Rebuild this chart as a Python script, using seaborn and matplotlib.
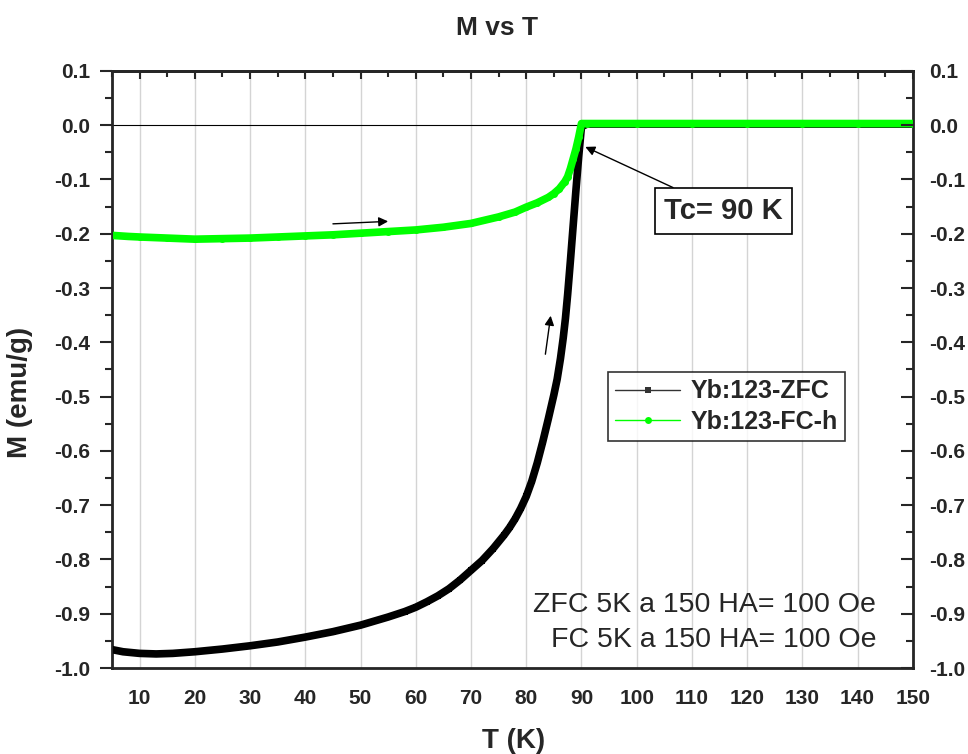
import numpy as np
import pandas as pd
import matplotlib
matplotlib.use('Agg')
import matplotlib.pyplot as plt
import seaborn as sns

# ZFC curve
t_zfc = [5, 7, 10, 13, 16, 20, 25, 30, 35, 40, 45, 50, 55, 58, 60, 62, 64, 66,
         68, 70, 72, 74, 76, 77, 78, 79, 80, 81, 82, 83, 84, 85, 85.6, 86.2,
         86.7, 87.1, 87.5, 88, 88.5, 89, 89.5, 90, 91, 100, 110, 120, 130, 140, 150]
m_zfc = [-0.966, -0.970, -0.973, -0.974, -0.973, -0.970, -0.965, -0.959, -0.952,
         -0.943, -0.933, -0.921, -0.906, -0.896, -0.888, -0.878, -0.867, -0.854,
         -0.838, -0.820, -0.802, -0.780, -0.755, -0.741, -0.725, -0.706, -0.684,
         -0.656, -0.622, -0.583, -0.541, -0.497, -0.468, -0.430, -0.392, -0.356,
         -0.312, -0.250, -0.185, -0.120, -0.058, -0.003, 0.002, 0.002, 0.002,
         0.002, 0.002, 0.002, 0.002]

# FC-h curve
t_fc = [5, 8, 10, 15, 20, 25, 30, 35, 40, 45, 50, 55, 60, 65, 70, 75, 78, 80,
        82, 84, 85, 86, 87, 87.5, 88, 88.5, 89, 89.5, 90, 91, 100, 110, 120,
        130, 140, 150]
m_fc = [-0.203, -0.205, -0.206, -0.208, -0.210, -0.209, -0.208, -0.206, -0.204,
        -0.202, -0.199, -0.196, -0.193, -0.188, -0.181, -0.169, -0.160, -0.151,
        -0.143, -0.133, -0.126, -0.117, -0.104, -0.095, -0.080, -0.062, -0.044,
        -0.022, 0.003, 0.003, 0.003, 0.003, 0.003, 0.003, 0.003, 0.003]

x_ticks = list(range(10, 151, 10))
y_ticks = [round(v, 1) for v in np.arange(-1.0, 0.11, 0.1)]
y_labels = ['%.1f' % abs(v) if abs(v) < 1e-9 else '%.1f' % v for v in y_ticks]

zfc = pd.DataFrame({'T': t_zfc, 'M': m_zfc})
fc = pd.DataFrame({'T': t_fc, 'M': m_fc})

sns.set_style('white')
plt.rcParams['font.family'] = ['Liberation Sans', 'DejaVu Sans']

fig = plt.figure(figsize=(9.68, 7.54), dpi=100)
ax = fig.add_axes([0.1157, 0.114, 0.8273, 0.792])

# vertical grid + zero line
for xv in x_ticks[:-1]:
    ax.axvline(xv, color='#d4d4d4', lw=1, zorder=0)
ax.axhline(0, color='black', lw=0.8, zorder=1)

sns.lineplot(data=zfc, x='T', y='M', ax=ax, color='black', linewidth=5.5,
             marker='s', markersize=5, markeredgewidth=0, label='Yb:123-ZFC',
             sort=False, zorder=3)
sns.lineplot(data=fc, x='T', y='M', ax=ax, color='#00ff00', linewidth=5.5,
             marker='o', markersize=5, markeredgewidth=0, label='Yb:123-FC-h',
             sort=False, zorder=4)

ax.set_xlim(5, 150)
ax.set_ylim(-1.0, 0.1)
ax.set_xticks(x_ticks)
ax.set_xticks(np.arange(5, 151, 5), minor=True)
ax.set_yticks(y_ticks)
ax.set_yticks(np.arange(-1.0, 0.101, 0.05), minor=True)
ax.set_yticklabels(y_labels)
ax.tick_params(which='major', direction='out', length=9, width=1.5, labelsize=15)
ax.tick_params(axis='y', which='major', pad=7)
ax.tick_params(axis='x', which='major', pad=6)
ax.tick_params(which='minor', direction='out', length=5, width=1.5)
for lab in ax.get_xticklabels() + ax.get_yticklabels():
    lab.set_fontweight('bold')
for s in ax.spines.values():
    s.set_linewidth(2)

ax.set_xlabel('T (K)', fontsize=20, fontweight='bold')
ax.xaxis.set_label_coords(0.502, -0.100)
ax.set_ylabel('M (emu/g)', fontsize=20, fontweight='bold')
ax.yaxis.set_label_coords(-0.0986, 0.462)
fig.text(497 / 968, 1 - 28 / 754, 'M vs T', fontsize=19, fontweight='bold',
         ha='center', va='center')

# right axis with labels, inward ticks
ax2 = ax.twinx()
ax2.set_ylim(ax.get_ylim())
ax2.set_yticks(y_ticks)
ax2.set_yticks(np.arange(-1.0, 0.101, 0.05), minor=True)
ax2.set_yticklabels(y_labels)
ax2.tick_params(which='major', direction='in', length=9, width=1.5,
                labelsize=15, pad=12)
ax2.tick_params(which='minor', direction='in', length=5, width=1.5)
for lab in ax2.get_yticklabels():
    lab.set_fontweight('bold')

# top axis, inward ticks, no labels
ax3 = ax.secondary_xaxis('top')
ax3.set_xticks(x_ticks)
ax3.set_xticks(np.arange(5, 151, 5), minor=True)
ax3.tick_params(which='major', direction='in', length=6, width=1.5, labeltop=False)
ax3.tick_params(which='minor', direction='in', length=4, width=1.5)
ax3.spines['top'].set_linewidth(2)

leg = ax.legend(loc='upper left', bbox_to_anchor=(0.619, 0.496), borderaxespad=0,
                frameon=True, fancybox=False, edgecolor='black',
                prop={'weight': 'bold', 'size': 18}, handlelength=2.6,
                borderpad=0.3, labelspacing=0.25, handletextpad=0.4)
leg.get_frame().set_linewidth(1.2)
for ln, c in zip(leg.get_lines(), ['#333333', '#00ff00']):
    ln.set_linewidth(1)
    ln.set_color(c)
    ln.set_markersize(5)

# arrows
arw = dict(arrowstyle='-|>', color='black', lw=1, mutation_scale=14)
ax.annotate('', xy=(55.5, -0.177), xytext=(44.5, -0.182), arrowprops=arw)
ax.annotate('', xy=(84.5, -0.346), xytext=(83.4, -0.427), arrowprops=arw)
ax.annotate('Tc= 90 K', xy=(90.7, -0.04), xytext=(115.7, -0.158),
            fontsize=21, fontweight='bold', ha='center', va='center',
            bbox=dict(boxstyle='square,pad=0.3', fc='white', ec='black', lw=1.2),
            arrowprops=dict(arrowstyle='-|>', color='black', lw=1, mutation_scale=14,
                            shrinkA=0, shrinkB=0))

ax.text(143.4, -0.884, 'ZFC 5K a 150 HA= 100 Oe', fontsize=20.5, ha='right', va='center')
ax.text(143.4, -0.948, 'FC 5K a 150 HA= 100 Oe', fontsize=20.5, ha='right', va='center')

fig.savefig('out.png', dpi=100)
